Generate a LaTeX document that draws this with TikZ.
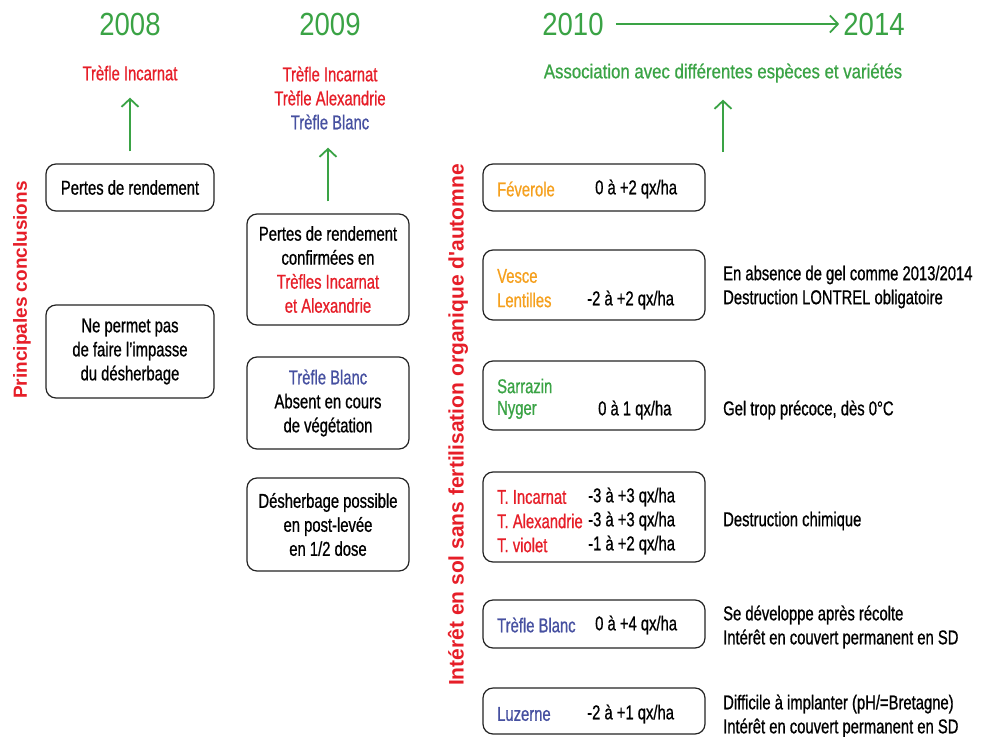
\documentclass[tikz,border=0pt]{standalone}
\usepackage{fontspec}
\setmainfont[FakeStretch=0.74,FakeBold=0.8]{Liberation Sans}
\newfontfamily\widefont[FakeStretch=0.84,FakeBold=0.8]{Liberation Sans}
\newfontfamily\yearfont[FakeStretch=0.86]{Liberation Sans}
\newfontfamily\sidefont{Liberation Sans}
\usetikzlibrary{arrows.meta,positioning}

\definecolor{leafgreen}{RGB}{58,163,69}
\definecolor{cloverred}{RGB}{230,30,40}
\definecolor{cloverblue}{RGB}{70,80,160}
\definecolor{beanorange}{RGB}{245,160,30}
\definecolor{boxline}{RGB}{35,35,35}

\tikzset{
  txt/.style={font=\fontsize{20}{24}\selectfont, inner sep=0pt, align=center},
  year/.style={font=\yearfont\fontsize{32}{34}\selectfont, text=leafgreen, inner sep=0pt},
  side/.style={font=\sidefont\bfseries\fontsize{19}{22}\selectfont, text=cloverred, rotate=90, inner sep=0pt},
  conclbox/.style={txt, draw=boxline, line width=1.2pt, rounded corners=10pt},
  cropbox/.style={draw=boxline, line width=1.2pt, rounded corners=10pt, minimum width=222pt},
  crop/.style={txt, anchor=west},
  note/.style={txt, anchor=west, align=left},
  grarrow/.style={draw=leafgreen, line width=1.8pt, -{Straight Barb[length=8pt,width=17pt]}},
}

\begin{document}
\begin{tikzpicture}[x=1pt,y=-1pt]
      \useasboundingbox (0,0) rectangle (990,736);

      % years
      \node[year] (y8) at (130,24) {2008};
      \node[year] (y9) at (330,24) {2009};
      \node[year] (y10) at (573,24) {2010};
      \node[year] (y14) at (874,24) {2014};
      \draw[grarrow, shorten <=12pt, shorten >=4pt] (y10) -- (y14);

      % species tested
      \node[txt, text=cloverred] (t8) at (130,73) {Trèfle Incarnat};
      \node[txt] (t9) at (330,98) {\textcolor{cloverred}{Trèfle Incarnat}\\
        \textcolor{cloverred}{Trèfle Alexandrie}\\ \textcolor{cloverblue}{Trèfle Blanc}};
      \node[txt, font=\widefont\fontsize{20}{24}\selectfont, text=leafgreen] (t10) at (723,73)
        {Association avec différentes espèces et variétés};

      \node[side] (s1) at (22,290) {Principales conclusions};
      \node[side, font=\sidefont\bfseries\fontsize{21}{24}\selectfont] (s2) at (458,425)
        {Intérêt en sol sans fertilisation organique d'automne};

      % 2008
      \node[conclbox, minimum width=168pt, minimum height=47pt] (b8a) at (130,187.5) {Pertes de rendement};
      \node[conclbox, minimum width=168pt, minimum height=93pt] (b8b) at (130,351.5)
        {Ne permet pas\\de faire l'impasse\\du désherbage};

      % 2009
      \node[conclbox, minimum width=162pt, minimum height=111pt] (b9a) at (328,269.5)
        {Pertes de rendement\\confirmées en\\\textcolor{cloverred}{Trèfles Incarnat}\\\textcolor{cloverred}{et Alexandrie}};
      \node[conclbox, minimum width=162pt, minimum height=92pt] (b9b) at (328,403)
        {\textcolor{cloverblue}{Trèfle Blanc}\\Absent en cours\\de végétation};
      \node[conclbox, minimum width=162pt, minimum height=93pt] (b9c) at (328,524.5)
        {Désherbage possible\\en post-levée\\en 1/2 dose};

      \draw[grarrow, shorten <=12pt, shorten >=17pt] (b8a) -- (t8);
      \draw[grarrow, shorten <=12pt, shorten >=18pt] (b9a.north) -- (b9a.north |- t9.south);

      % 2010 -> 2014
      \coordinate (a10) at (723,152);
      \draw[grarrow, shorten >=17pt] (a10) -- (t10);

      \node[cropbox, minimum height=47pt] (f1) at (594,187.5) {};
      \node[cropbox, minimum height=70pt] (f2) at (594,285) {};
      \node[cropbox, minimum height=69pt] (f3) at (594,395.5) {};
      \node[cropbox, minimum height=90pt] (f4) at (594,517) {};
      \node[cropbox, minimum height=48pt] (f5) at (594,624) {};
      \node[cropbox, minimum height=46pt] (f6) at (594,711) {};

      \node[crop, text=beanorange] (c1) at (497,189) {Féverole};
      \node[crop] (v1) at (595,189) {0 à +2 qx/ha};

      \node[crop, text=beanorange] (c2) at (497,276) {Vesce};
      \node[crop, text=beanorange] (c3) at (497,300) {Lentilles};
      \node[crop] (v2) at (587,300) {-2 à +2 qx/ha};

      \node[crop, text=leafgreen] (c4) at (497,386) {Sarrazin};
      \node[crop, text=leafgreen] (c5) at (497,410) {Nyger};
      \node[crop] (v3) at (598,410) {0 à 1 qx/ha};

      \node[crop, text=cloverred] (c6) at (497,497) {T. Incarnat};
      \node[crop, text=cloverred] (c7) at (497,521) {T. Alexandrie};
      \node[crop, text=cloverred] (c8) at (497,545) {T. violet};
      \node[crop] (v4) at (588,497) {-3 à +3 qx/ha};
      \node[crop] (v5) at (588,521) {-3 à +3 qx/ha};
      \node[crop] (v6) at (588,545) {-1 à +2 qx/ha};

      \node[crop, text=cloverblue] (c9) at (497,625) {Trèfle Blanc};
      \node[crop] (v7) at (595,625) {0 à +4 qx/ha};

      \node[crop, text=cloverblue] (c10) at (497,714) {Luzerne};
      \node[crop] (v8) at (587,714) {-2 à +1 qx/ha};

      % remarks
      \node[note] (n1) at (723,287) {En absence de gel comme 2013/2014\\Destruction LONTREL obligatoire};
      \node[note] (n2) at (723,410) {Gel trop précoce, dès 0°C};
      \node[note] (n3) at (723,521) {Destruction chimique};
      \node[note] (n4) at (723,627) {Se développe après récolte\\Intérêt en couvert permanent en SD};
      \node[note] (n5) at (723,716) {Difficile à implanter (pH/=Bretagne)\\Intérêt en couvert permanent en SD};
    \end{tikzpicture}
\end{document}
